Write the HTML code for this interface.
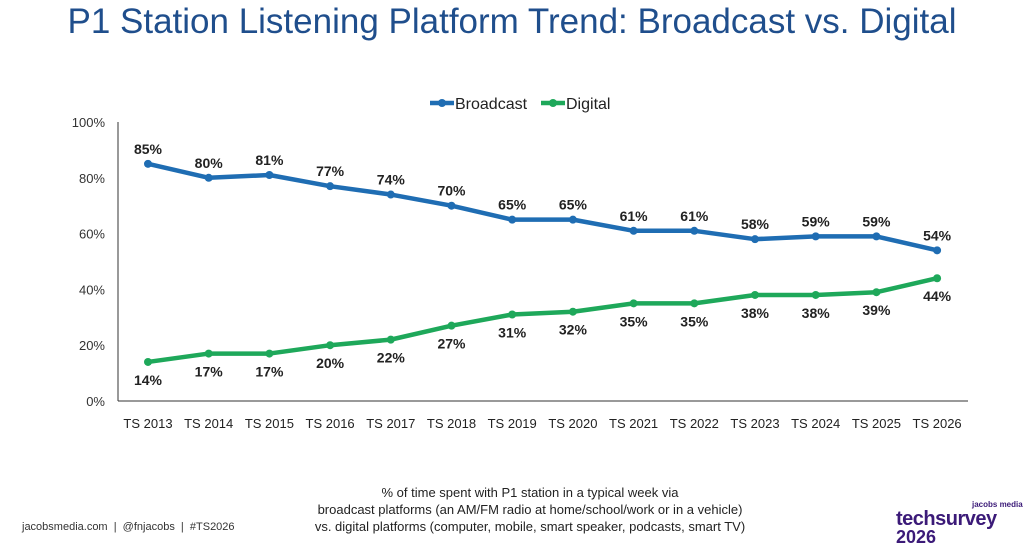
<!DOCTYPE html>
<html><head><meta charset="utf-8"><style>
body{margin:0;width:1024px;height:547px;background:#fff;font-family:"Liberation Sans",Arial,sans-serif;overflow:hidden;position:relative}
#title{position:absolute;left:0;width:1024px;top:2px;text-align:center;font-size:35px;color:#1f4e8c;}
#note{position:absolute;left:250px;width:560px;top:484px;text-align:center;font-size:13px;line-height:17px;color:#222}
#foot{position:absolute;left:22px;top:521px;font-size:11px;color:#333}
#logo{position:absolute;left:882px;top:506px;color:#3b1a78;font-weight:bold;white-space:nowrap}
</style></head><body>
<div id="title">P1 Station Listening Platform Trend: Broadcast vs. Digital</div>
<svg id="chart" width="1024" height="547" style="position:absolute;left:0;top:0"></svg>
<div id="note">% of time spent with P1 station in a typical week via<br>broadcast platforms (an AM/FM radio at home/school/work or in a vehicle)<br>vs. digital platforms (computer, mobile, smart speaker, podcasts, smart TV)</div>
<div id="foot">jacobsmedia.com &nbsp;| &nbsp;@fnjacobs &nbsp;| &nbsp;#TS2026</div>
<div id="logo">
<div style="position:absolute;left:90px;top:-6px;font-size:8px;white-space:nowrap">jacobs media</div>
<div style="position:absolute;left:14px;top:2px;font-size:20px;letter-spacing:-0.5px">techsurvey</div>
<div style="position:absolute;left:14px;top:21px;font-size:18px">2026</div>
</div>
<script>
const categories=["TS 2013","TS 2014","TS 2015","TS 2016","TS 2017","TS 2018","TS 2019","TS 2020","TS 2021","TS 2022","TS 2023","TS 2024","TS 2025","TS 2026"];
const broadcast=[85,80,81,77,74,70,65,65,61,61,58,59,59,54];
const digital=[14,17,17,20,22,27,31,32,35,35,38,38,39,44];
const yTicks=[0,20,40,60,80,100];
const svg=document.getElementById('chart');
const NS="http://www.w3.org/2000/svg";
const x0=148,dx=60.7,yBase=401,yTop=122;
const X=i=>x0+i*dx;
const Y=v=>yBase-(v/100)*(yBase-yTop);
function mk(t,a,txt){const e=document.createElementNS(NS,t);for(const k in a)e.setAttribute(k,a[k]);if(txt!==undefined)e.textContent=txt;svg.appendChild(e);return e;}
let e;
e=mk('line',{x1:118,y1:yTop,x2:118,y2:yBase,stroke:'#333','stroke-width':1});


e=mk('line',{x1:118,y1:yBase,x2:968,y2:yBase,stroke:'#333','stroke-width':1});


yTicks.forEach(v=>{e=mk('text',{x:105,y:Y(v)+5,'text-anchor':'end','font-size':13,fill:'#333'},v+'%');

});
categories.forEach((c,i)=>{e=mk('text',{x:X(i),y:428,'text-anchor':'middle','font-size':13,fill:'#222'},c);

});
function series(vals,color,name,above){
  e=mk('polyline',{points:vals.map((v,i)=>X(i)+','+Y(v)).join(' '),fill:'none',stroke:color,'stroke-width':4.5,'stroke-linejoin':'round'});
  
  
  vals.forEach((v,i)=>{
    e=mk('circle',{cx:X(i),cy:Y(v),r:4,fill:color});
    
    
    e=mk('text',{x:X(i),y:above?Y(v)-10:Y(v)+23,'text-anchor':'middle','font-size':14,'font-weight':'bold',fill:'#222'},v+'%');
    
    
  });
}
series(broadcast,'#1f6db3','broadcast',true);
series(digital,'#1ea85a','digital',false);
[[430,'#1f6db3','Broadcast'],[541,'#1ea85a','Digital']].forEach(([lx,c,t])=>{
  e=mk('line',{x1:lx,y1:103,x2:lx+24,y2:103,stroke:c,'stroke-width':4.5});
  
  
  e=mk('circle',{cx:lx+12,cy:103,r:4,fill:c});
  
  
  e=mk('text',{x:lx+25,y:109,'font-size':16,fill:'#222'},t);
  
  
});
</script>
</body></html>
